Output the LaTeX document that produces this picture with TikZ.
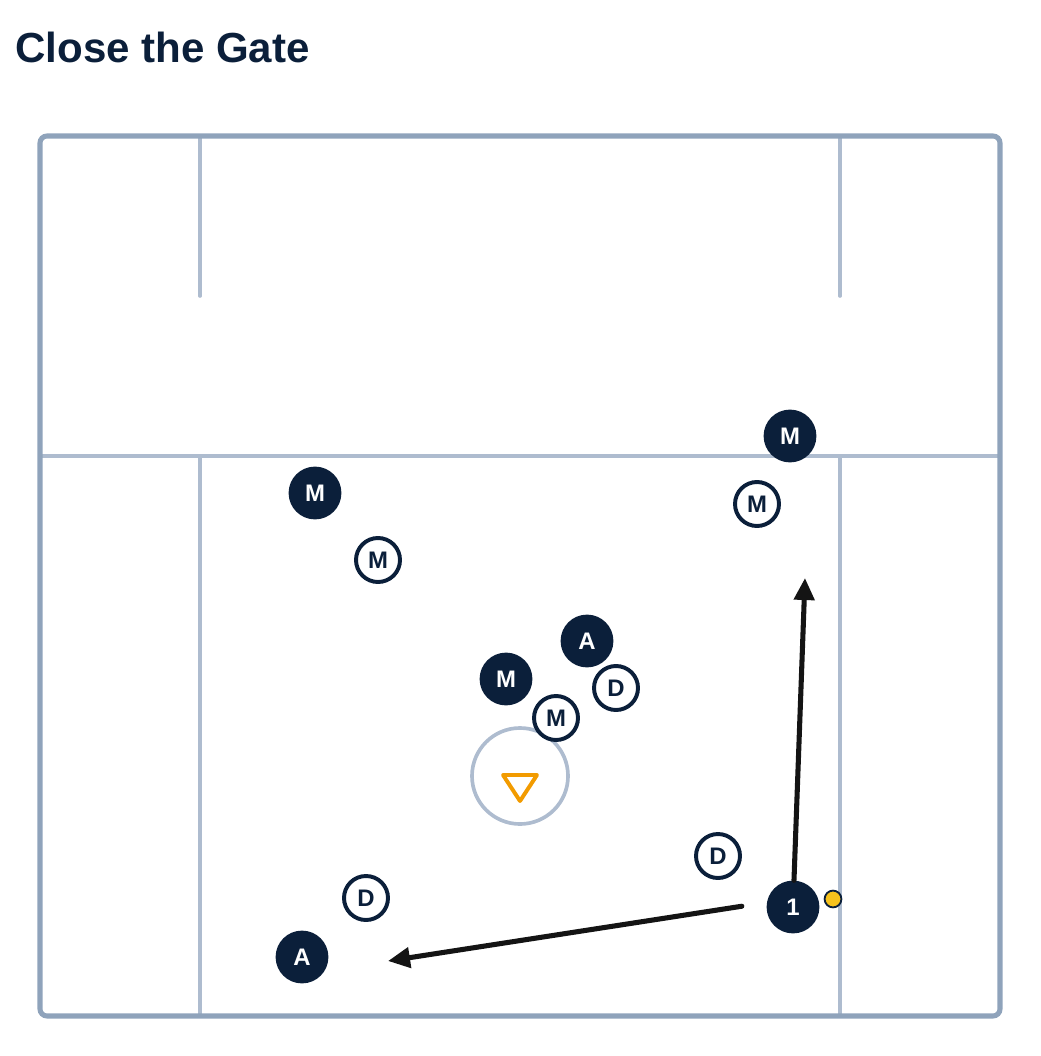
\documentclass[tikz,border=0pt]{standalone}
\usepackage{fontspec}
\setmainfont{Liberation Sans}
\usetikzlibrary{arrows.meta}
\definecolor{navy}{HTML}{0B1F3A}
\definecolor{boundary}{HTML}{8FA3BB}
\definecolor{marking}{HTML}{AEBCCF}
\definecolor{cone}{HTML}{F29B00}
\definecolor{ballyellow}{HTML}{F6C21C}
\begin{document}
\begin{tikzpicture}[x=0.025cm,y=-0.025cm]
    \tikzstyle{attack}= [circle,fill=navy,text=white,minimum size=1.32cm,inner sep=0pt,font=\fontsize{17}{17}\selectfont\bfseries]
    \tikzstyle{defend}= [circle,draw=navy,fill=white,text=navy,line width=2.8pt,minimum size=1.1cm,inner sep=0pt,font=\fontsize{17}{17}\selectfont\bfseries]
    \tikzstyle{run}= [black!92,line width=3.6pt,line cap=round,-{Triangle[length=0.55cm,width=0.5cm]}]
    \tikzstyle{fieldmark}= [marking,line width=2.6pt,line cap=round]
  \def\fw{1000}
  \def\fh{1016}
  \useasboundingbox (0,0) rectangle (1040,1056);

  \node[anchor=base west,inner sep=0pt,text=navy,font=\fontsize{29.9}{29.9}\selectfont\bfseries] (title) at (15,63) {Close the Gate};

  % field
  \foreach \x in {200,840} {
    \draw[fieldmark] (\x,136) -- (\x,296);
    \draw[fieldmark] (\x,456) -- (\x,\fh);
  }
  \draw[fieldmark] (40,456) -- (\fw,456);
  \draw[boundary,line width=3.6pt,rounded corners=5pt] (40,136) rectangle (\fw,\fh);

  % zone + cone
  \node[circle,draw=marking,line width=2.6pt,minimum size=2.4cm] (zone) at (520,776) {};
  \draw[cone,line width=2.8pt,line join=round] (503,775) -- (537,775) -- (520,801) -- cycle;

  \foreach \x/\y/\t [count=\i] in {790/436/M,315/493/M,587/641/A,506/679/M,302/957/A}
    \node[attack] (att\i) at (\x,\y) {\t};
  \foreach \x/\y/\t [count=\i] in {757/504/M,378/560/M,616/688/D,556/718/M,718/856/D,366/898/D}
    \node[defend] (def\i) at (\x,\y) {\t};

  \node[attack] (one) at (793,907) {1};
  \node[circle,fill=ballyellow,draw=navy,line width=1.3pt,minimum size=0.42cm,inner sep=0pt] (ball) at (833,899) {};

  \coordinate (cut) at (805,578);
  \coordinate (pass) at (388,961);
  \draw[run] (one) -- (cut);
  \draw[run,shorten <=0.63cm] (one.170) -- (pass);
\end{tikzpicture}
\end{document}
